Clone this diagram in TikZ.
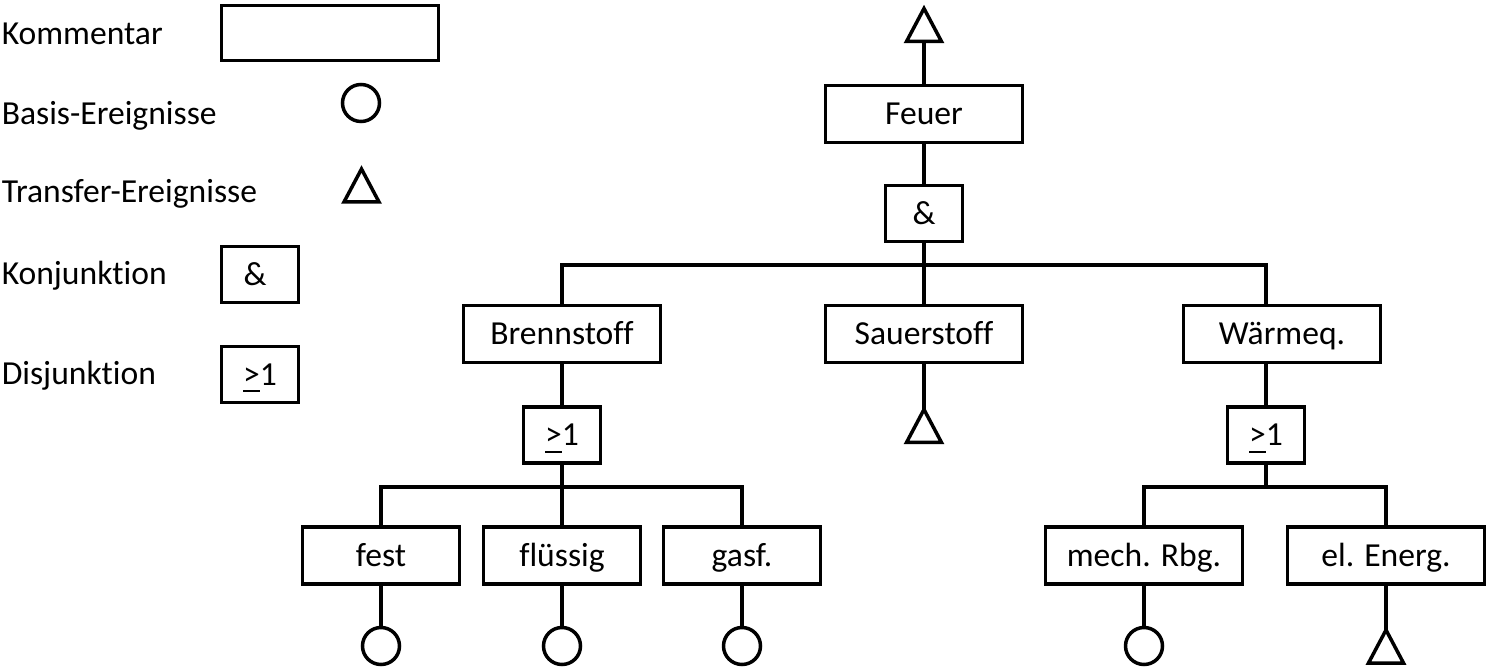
\documentclass[tikz,border=0pt]{standalone}
\usepackage{fontspec}
\setmainfont{Carlito}[Ligatures=NoCommon]
\newcommand{\geone}{\setbox0\hbox{>}\rlap{\rule[-3.5pt]{\wd0}{1pt}}>1}
\begin{document}
\begin{tikzpicture}[x=0.5pt,y=-0.5pt, line width=1.75pt, line join=miter,
  every node/.style={font=\fontsize{16.8pt}{20pt}\selectfont},
  box/.style={draw, rectangle, inner sep=0pt, minimum width=98.5pt, minimum height=28.5pt, text height=10.7pt, text depth=0pt},
  gate/.style={box, minimum width=38.5pt, minimum height=28pt},
  leaf/.style={box, minimum width=78.5pt},
  basic/.style={draw, circle, inner sep=0pt, minimum size=18.5pt},
  lbl/.style={anchor=base west, inner sep=0pt},
  tri/.pic={\draw (-17.5,0) -- (0,-33) -- (17.5,0) -- cycle;}
]
\useasboundingbox (0,0) rectangle (1488,667);

% legend
\node[lbl] (lk) at (0,45) {Kommentar};
\node[lbl] (lb) at (0,125) {Basis-Ereignisse};
\node[lbl] (lt) at (0,203) {Transfer-Ereignisse};
\node[lbl] (lkj) at (0,285) {Konjunktion};
\node[lbl] (ld) at (0,385) {Disjunktion};
\node[box, minimum width=108.5pt, minimum height=27.5pt] (kbox) at (330,33) {};
\node[basic] (lcirc) at (361,103) {};
\pic at (361.5,202) {tri};
\node[gate] (land) at (260,274.5) {\hspace*{-5pt}\&};
\node[gate] (lor) at (260,374.5) {\geone};

% tree
\node[box] (feuer) at (924,114) {Feuer};
\node[gate] (andg) at (924,213.5) {\&};
\node[box] (bren) at (562,334) {Brennstoff};
\node[box] (sauer) at (924,334) {Sauerstoff};
\node[box] (warm) at (1282,334) {Wärmeq.};
\node[gate] (bgate) at (562,435) {\geone};
\node[gate] (wgate) at (1266,435) {\geone};
\node[leaf] (fest) at (381,555.5) {fest};
\node[leaf] (flu) at (562,555.5) {flüssig};
\node[leaf] (gasf) at (742,555.5) {gasf.};
\node[box] (mech) at (1144,555.5) {mech. Rbg.};
\node[box] (el) at (1386,555.5) {el. Energ.};
\node[basic] (c1) at (381,646) {};
\node[basic] (c2) at (562,646) {};
\node[basic] (c3) at (742,646) {};
\node[basic] (c4) at (1144,646) {};

\coordinate (tT) at (924,41.5);
\coordinate (tS) at (924,409.5);
\coordinate (tE) at (1386,630);
\pic at (tT) {tri};
\pic at (924,442.5) {tri};
\pic at (1386,663) {tri};

\coordinate (a1) at (924,265);
\coordinate (b1) at (562,487);
\coordinate (w1) at (1266,487);

\draw (feuer.north) -- (tT);
\draw (feuer.south) -- (andg.north);
\draw (andg.south) -- (sauer.north);
\draw (bren.north) |- (a1) -| (wgate.north |- warm.north);
\draw (sauer.south) -- (tS);
\draw (bren.south) -- (bgate.north);
\draw (warm.south -| wgate.north) -- (wgate.north);
\draw (bgate.south) -- (flu.north);
\draw (fest.north) |- (b1) -| (gasf.north);
\draw (wgate.south) -- (w1);
\draw (mech.north) |- (w1) -| (el.north);
\draw (fest.south) -- (c1.north);
\draw (flu.south) -- (c2.north);
\draw (gasf.south) -- (c3.north);
\draw (mech.south) -- (c4.north);
\draw (el.south) -- (tE);
\end{tikzpicture}
\end{document}
